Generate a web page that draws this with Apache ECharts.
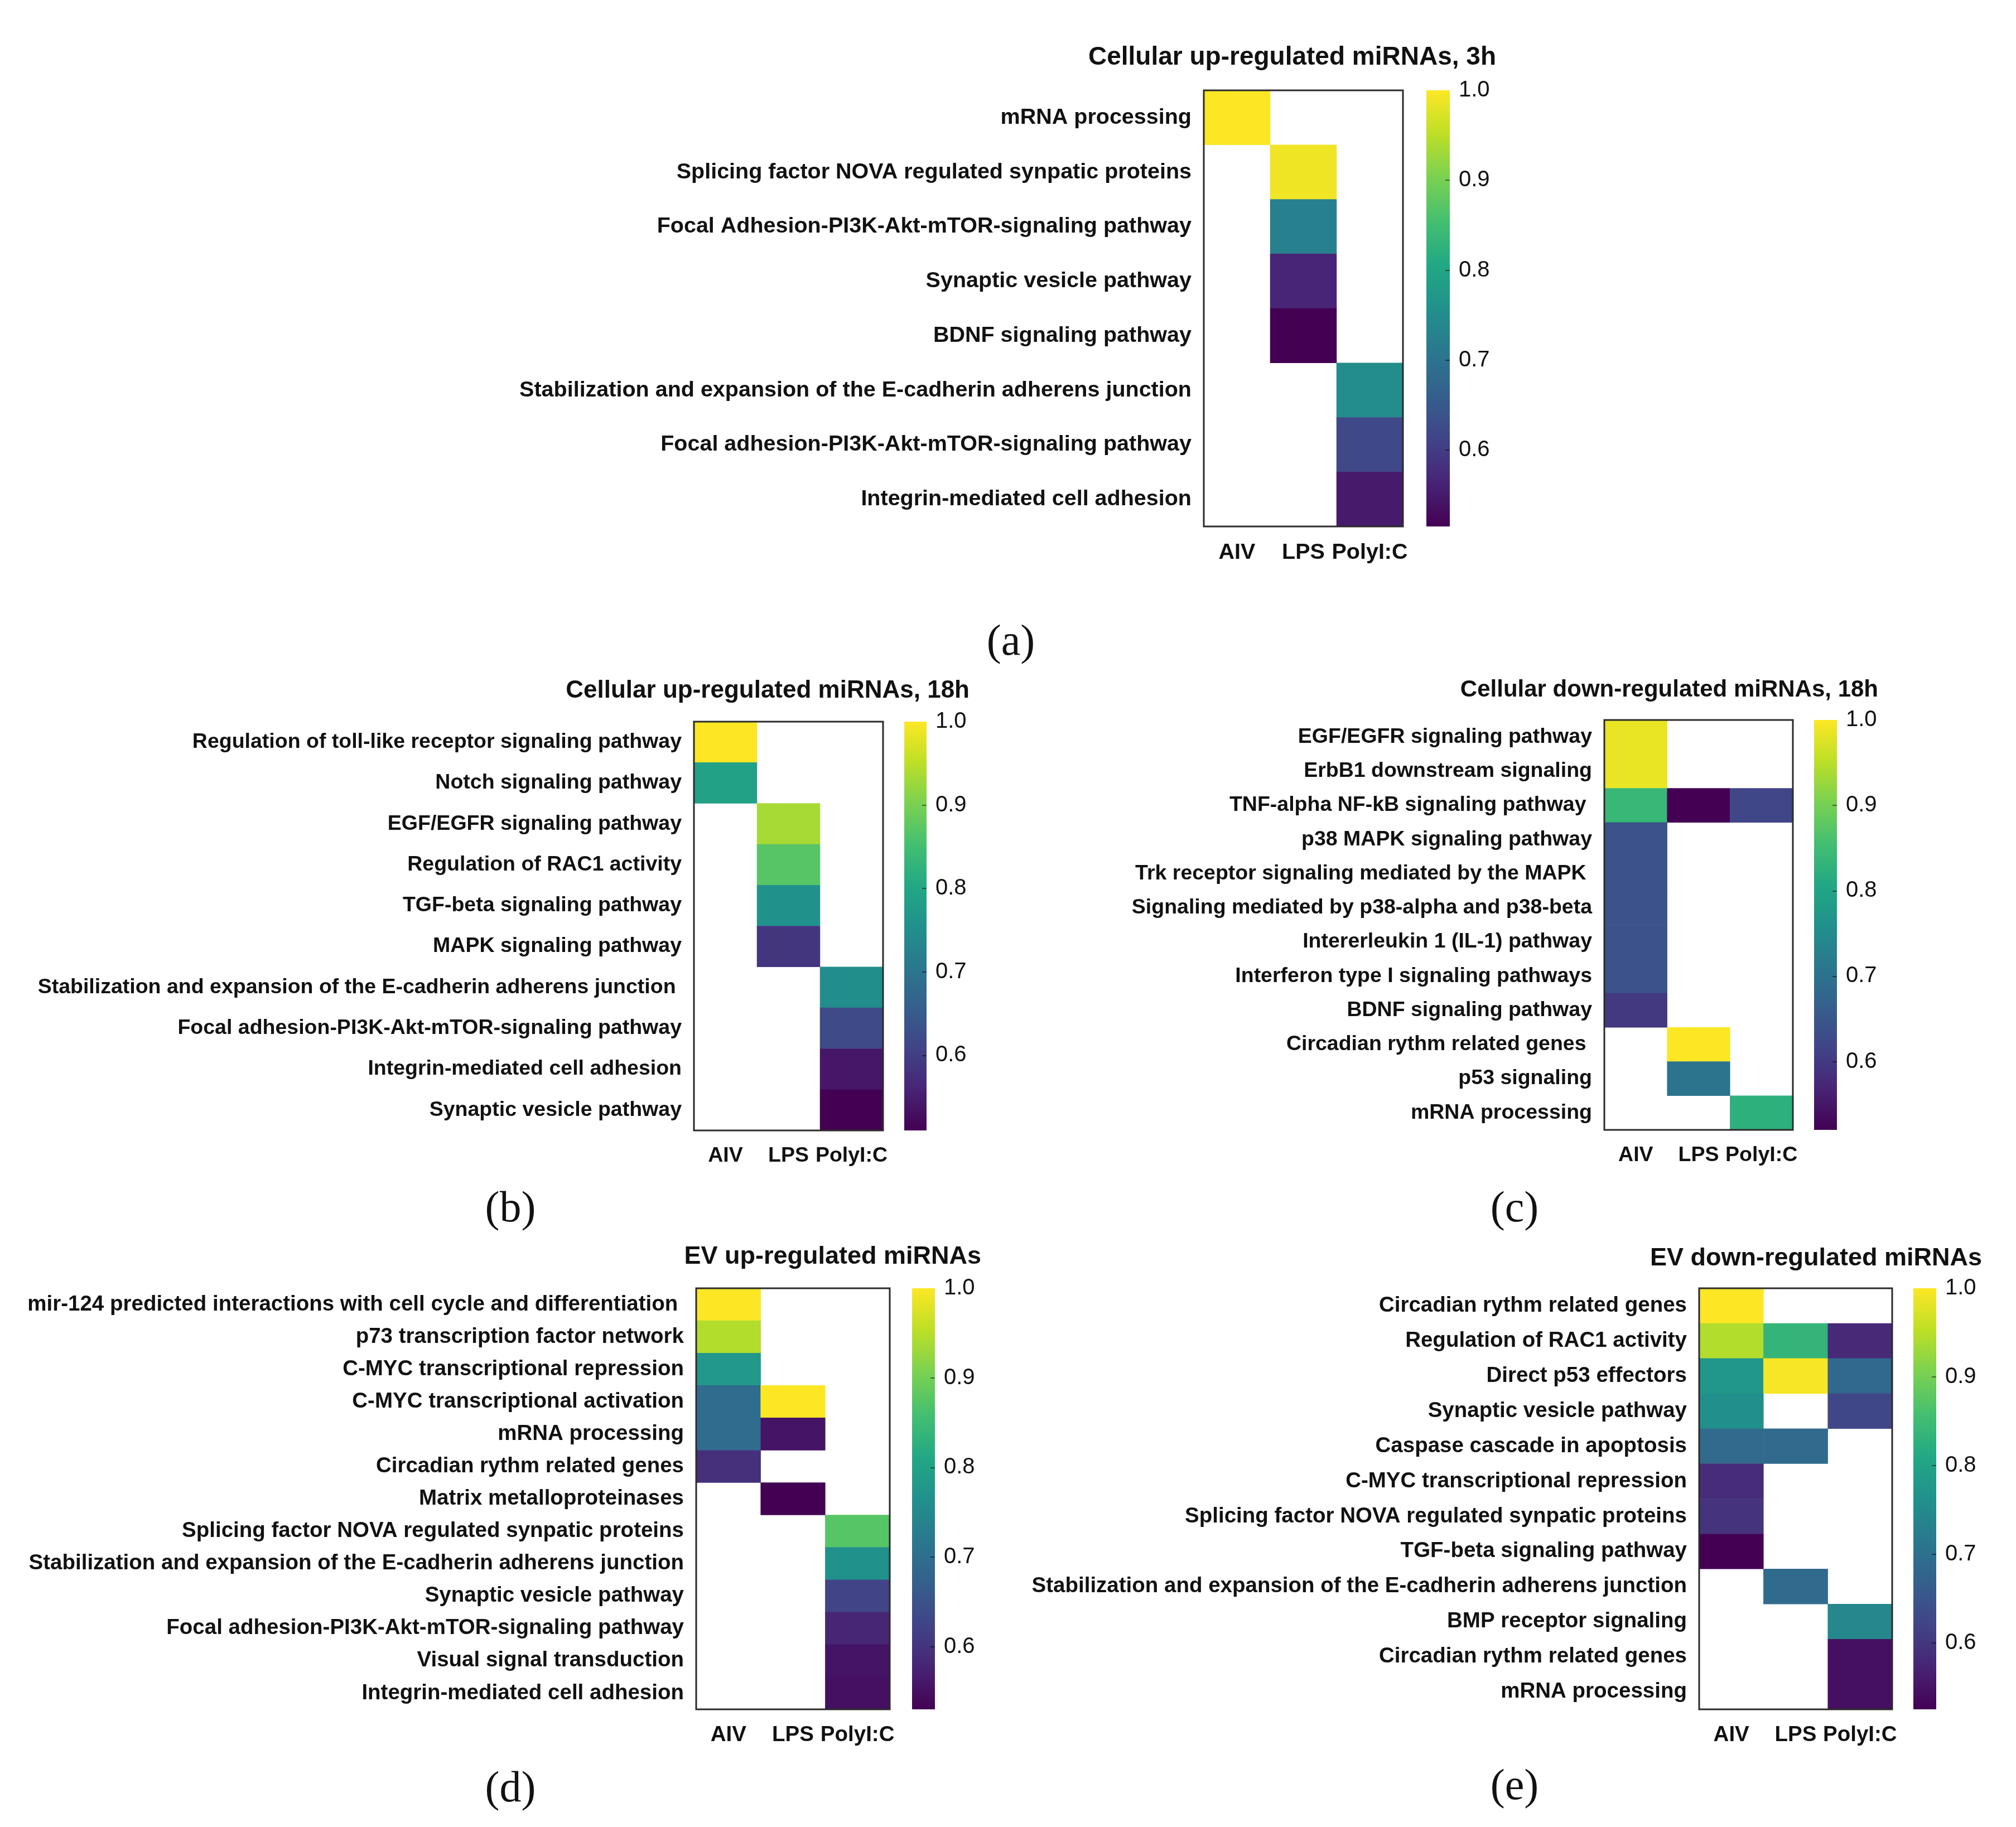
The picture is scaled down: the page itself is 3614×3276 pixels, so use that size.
<!DOCTYPE html>
<html lang="en">
<head>
<meta charset="UTF-8">
<title>miRNA pathway heatmaps</title>
<script src="https://cdn.jsdelivr.net/npm/echarts@6.0.0/dist/echarts.min.js"></script>
<style>
    *{margin:0;padding:0;}
    html,body{width:100%;height:100%;background:#fff;}
    #main{width:3614px;height:3276px;}
</style>
</head>
<body>
<div id="main"></div>
<script>
var conditions = ['AIV', 'LPS', 'PolyI:C'];
var scaleTicks = [0.6, 0.7, 0.8, 0.9, 1.0];
var viridis = ['#440154', '#482475', '#414487', '#355f8d', '#2a788e', '#21918c',
               '#22a884', '#44bf70', '#7ad151', '#bddf26', '#fde725'];

// (a) cellular up-regulated, 3h
var pathwaysA = ['mRNA processing', 'Splicing factor NOVA regulated synpatic proteins',
    'Focal Adhesion-PI3K-Akt-mTOR-signaling pathway', 'Synaptic vesicle pathway', 'BDNF signaling pathway',
    'Stabilization and expansion of the E-cadherin adherens junction',
    'Focal adhesion-PI3K-Akt-mTOR-signaling pathway', 'Integrin-mediated cell adhesion'];
var valuesA = [
    [1.00, null, null], [null, 0.99, null], [null, 0.725, null], [null, 0.565, null],
    [null, 0.515, null], [null, null, 0.75], [null, null, 0.62], [null, null, 0.55]];

// (b) cellular up-regulated, 18h
var pathwaysB = ['Regulation of toll-like receptor signaling pathway', 'Notch signaling pathway',
    'EGF/EGFR signaling pathway', 'Regulation of RAC1 activity', 'TGF-beta signaling pathway',
    'MAPK signaling pathway', 'Stabilization and expansion of the E-cadherin adherens junction ',
    'Focal adhesion-PI3K-Akt-mTOR-signaling pathway', 'Integrin-mediated cell adhesion', 'Synaptic vesicle pathway'];
var valuesB = [
    [1.00, null, null], [0.79, null, null], [null, 0.935, null], [null, 0.87, null], [null, 0.755, null],
    [null, 0.585, null], [null, null, 0.75], [null, null, 0.62], [null, null, 0.54], [null, null, 0.51]];

// (c) cellular down-regulated, 18h
var pathwaysC = ['EGF/EGFR signaling pathway', 'ErbB1 downstream signaling', 'TNF-alpha NF-kB signaling pathway ',
    'p38 MAPK signaling pathway', 'Trk receptor signaling mediated by the MAPK ',
    'Signaling mediated by p38-alpha and p38-beta', 'Intererleukin 1 (IL-1) pathway',
    'Interferon type I signaling pathways', 'BDNF signaling pathway', 'Circadian rythm related genes ',
    'p53 signaling', 'mRNA processing'];
var valuesC = [
    [0.985, null, null], [0.985, null, null], [0.84, 0.52, 0.62], [0.64, null, null], [0.64, null, null],
    [0.64, null, null], [0.64, null, null], [0.64, null, null], [0.60, null, null], [null, 1.00, null],
    [null, 0.705, null], [null, null, 0.825]];

// (d) EV up-regulated
var pathwaysD = ['mir-124 predicted interactions with cell cycle and differentiation ',
    'p73 transcription factor network', 'C-MYC transcriptional repression', 'C-MYC transcriptional activation',
    'mRNA processing', 'Circadian rythm related genes', 'Matrix metalloproteinases',
    'Splicing factor NOVA regulated synpatic proteins',
    'Stabilization and expansion of the E-cadherin adherens junction', 'Synaptic vesicle pathway',
    'Focal adhesion-PI3K-Akt-mTOR-signaling pathway', 'Visual signal transduction', 'Integrin-mediated cell adhesion'];
var valuesD = [
    [1.00, null, null], [0.945, null, null], [0.78, null, null], [0.695, 1.00, null], [0.695, 0.555, null],
    [0.595, null, null], [null, 0.53, null], [null, null, 0.875], [null, null, 0.765], [null, null, 0.625],
    [null, null, 0.58], [null, null, 0.555], [null, null, 0.55]];

// (e) EV down-regulated
var pathwaysE = ['Circadian rythm related genes', 'Regulation of RAC1 activity', 'Direct p53 effectors',
    'Synaptic vesicle pathway', 'Caspase cascade in apoptosis', 'C-MYC transcriptional repression',
    'Splicing factor NOVA regulated synpatic proteins', 'TGF-beta signaling pathway',
    'Stabilization and expansion of the E-cadherin adherens junction', 'BMP receptor signaling',
    'Circadian rythm related genes', 'mRNA processing'];
var valuesE = [
    [1.00, null, null], [0.945, 0.835, 0.58], [0.775, 0.995, 0.685], [0.76, null, 0.625], [0.69, 0.69, null],
    [0.585, null, null], [0.595, null, null], [0.525, null, null], [null, 0.69, null], [null, null, 0.745],
    [null, null, 0.545], [null, null, 0.545]];

var FONT = '"Liberation Sans", Arial, sans-serif';

// layout of each panel: heatmap box [left, top, width, height], colorbar [left, width]
var panels = [
    {title: 'Cellular up-regulated miRNAs, 3h', letter: '(a)', rows: pathwaysA, values: valuesA,
     box: [2158, 162, 357, 782], cb: [2557, 42], titleAt: [2677, 75], titleSize: 46, letterAt: [1807, 1110], font: 39.5},
    {title: 'Cellular up-regulated miRNAs, 18h', letter: '(b)', rows: pathwaysB, values: valuesB,
     box: [1244, 1294, 339, 733], cb: [1621, 40], titleAt: [1733, 1212], titleSize: 44, letterAt: [910, 2126], font: 37.5},
    {title: 'Cellular down-regulated miRNAs, 18h', letter: '(c)', rows: pathwaysC, values: valuesC,
     box: [2876, 1291, 338, 735], cb: [3252, 41], titleAt: [3362, 1211], titleSize: 42, letterAt: [2710, 2126], font: 37.5},
    {title: 'EV up-regulated miRNAs', letter: '(d)', rows: pathwaysD, values: valuesD,
     box: [1248, 2310, 347, 755], cb: [1635, 41], titleAt: [1754, 2226], titleSize: 45, letterAt: [910, 3166], font: 38.5},
    {title: 'EV down-regulated miRNAs', letter: '(e)', rows: pathwaysE, values: valuesE,
     box: [3046, 2310, 346, 755], cb: [3430, 41], titleAt: [3548, 2229], titleSize: 45, letterAt: [2710, 3162], font: 38.5}
];

var gradientStops = viridis.slice().reverse().map(function (c, i) {
    return {offset: i / (viridis.length - 1), color: c};
});

function renderScale(params, api) {
    var top = api.coord([0, api.value(2)]);
    var bottom = api.coord([0, api.value(1)]);
    var w = api.size([1, 0])[0];
    return {
        type: 'rect',
        shape: {x: top[0] - w / 2, y: top[1], width: w, height: bottom[1] - top[1]},
        style: {fill: new echarts.graphic.LinearGradient(0, 0, 0, 1, gradientStops)}
    };
}

var option = {
    backgroundColor: '#fff',
    animation: false,
    title: [], grid: [], xAxis: [], yAxis: [], visualMap: [], series: []
};

panels.forEach(function (p, i) {
    var data = [];
    var cmin = 1;
    p.values.forEach(function (row, r) {
        row.forEach(function (v, c) {
            if (v !== null) {
                data.push([c, r, v]);
                cmin = Math.min(cmin, v);
            }
        });
    });
    var g = i * 2, gc = i * 2 + 1;

    option.title.push({
        text: p.title, left: p.titleAt[0], top: p.titleAt[1], textAlign: 'right',
        textStyle: {fontFamily: FONT, fontSize: p.titleSize, fontWeight: 'bold', color: '#111'}
    });
    option.title.push({
        text: p.letter, left: p.letterAt[0], top: p.letterAt[1], textAlign: 'center',
        textStyle: {fontFamily: '"Liberation Serif", "DejaVu Serif", serif', fontSize: 78, fontWeight: 'normal', color: '#111'}
    });

    option.grid.push({
        left: p.box[0], top: p.box[1], width: p.box[2], height: p.box[3],
        show: true, z: 10, backgroundColor: 'rgba(0,0,0,0)', borderColor: '#2b2b2b', borderWidth: 3
    });
    option.grid.push({left: p.cb[0], top: p.box[1], width: p.cb[1], height: p.box[3]});

    option.xAxis.push({
        type: 'category', gridIndex: g, data: conditions,
        axisLine: {show: false}, axisTick: {show: false}, splitLine: {show: false},
        axisLabel: {interval: 0, margin: 27, fontFamily: FONT, fontSize: p.font, fontWeight: 'bold', color: '#111'}
    });
    option.yAxis.push({
        type: 'category', gridIndex: g, data: p.rows, inverse: true,
        axisLine: {show: false}, axisTick: {show: false}, splitLine: {show: false},
        axisLabel: {interval: 0, margin: 22, fontFamily: FONT, fontSize: p.font, fontWeight: 'bold', color: '#111'}
    });
    option.xAxis.push({type: 'category', gridIndex: gc, data: ['scale'], show: false});
    option.yAxis.push({
        type: 'value', gridIndex: gc, min: cmin, max: 1, position: 'right', z: 5,
        axisLine: {show: false}, splitLine: {show: false},
        axisTick: {show: true, inside: true, length: 8, customValues: [0.6, 0.7, 0.8, 0.9],
                   lineStyle: {color: 'rgba(0,0,0,0.5)', width: 2}},
        axisLabel: {customValues: scaleTicks, margin: 16, fontFamily: FONT, fontSize: 40, color: '#111',
                    formatter: function (v) { return v.toFixed(1); }}
    });

    option.visualMap.push({
        type: 'continuous', show: false, min: cmin, max: 1, seriesIndex: g, inRange: {color: viridis}
    });
    option.series.push({
        type: 'heatmap', xAxisIndex: g, yAxisIndex: g, data: data,
        emphasis: {disabled: true}
    });
    option.series.push({
        type: 'custom', xAxisIndex: gc, yAxisIndex: gc, data: [[0, cmin, 1]],
        encode: {x: 0, y: [1, 2]}, renderItem: renderScale, silent: true
    });
});

var myChart = echarts.init(document.getElementById('main'));
myChart.setOption(option);
window.onresize = myChart.resize;
</script>
</body>
</html>
